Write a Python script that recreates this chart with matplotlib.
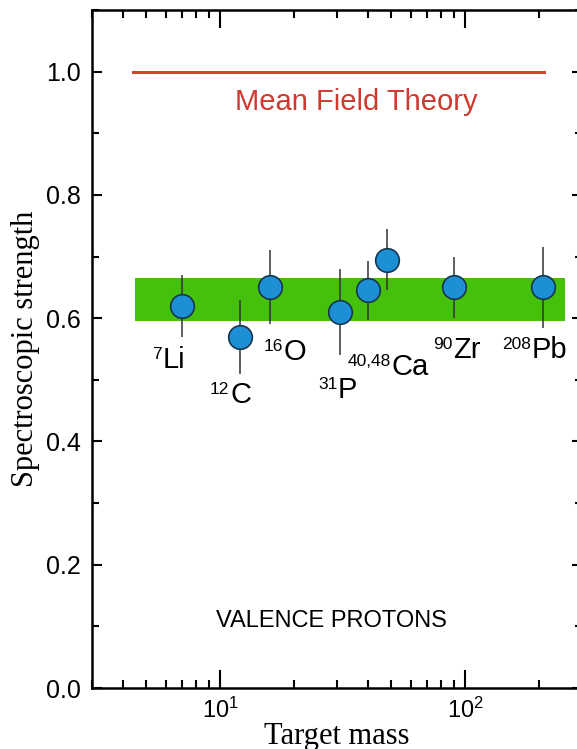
import matplotlib
matplotlib.use("Agg")
import matplotlib.pyplot as plt
import numpy as np
from matplotlib.ticker import LogLocator, MultipleLocator, FixedLocator

# data
mass = [7, 12, 16, 31, 40, 48, 90, 208]
strength = [0.62, 0.57, 0.65, 0.61, 0.645, 0.695, 0.65, 0.65]
err = [0.05, 0.06, 0.06, 0.07, 0.048, 0.05, 0.05, 0.066]

# nucleus labels: mass number, element, baseline-left position
label_sup = ["7", "12", "16", "31", "40,48", "90", "208"]
label_el = ["Li", "C", "O", "P", "Ca", "Zr", "Pb"]
label_x = [5.3, 9.1, 15.0, 25.1, 33.0, 74.0, 141.0]
label_y = [0.518, 0.461, 0.531, 0.469, 0.506, 0.534, 0.534]

mft_x = [4.4, 210]
mft_y = 1.0
band_x = [4.5, 255]
band_lo, band_hi = 0.595, 0.665

plt.rcParams['font.family'] = ['Liberation Sans', 'DejaVu Sans']
plt.rcParams['mathtext.fontset'] = 'custom'
plt.rcParams['mathtext.rm'] = 'Liberation Sans'
plt.rcParams['mathtext.it'] = 'Liberation Sans'
plt.rcParams['mathtext.default'] = 'regular'

fig = plt.figure(figsize=(5.77, 7.49), dpi=100)
ax = fig.add_axes([92 / 577, 61 / 749, 490 / 577, 678 / 749])
ax.set_xscale('log')
ax.set_xlim(3, 300)
ax.set_ylim(0, 1.1)

# band and mean field line
ax.fill_between(band_x, band_lo, band_hi, color='#45c10c', lw=0, zorder=1)
ax.plot(mft_x, [mft_y, mft_y], color='#d4432a', lw=2.2, zorder=2)
ax.text(35.9, 0.938, "Mean Field Theory", color='#cc3a30', fontsize=21,
        ha='center', va='baseline')

# data points
ax.errorbar(mass, strength, yerr=err, fmt='o', ms=17, mfc='#1d8fd5',
            mec='#163650', mew=1.2, ecolor='#333333', elinewidth=1.1,
            capsize=0, zorder=3)

# labels: small raised mass number, then the element symbol
for s, el, x, y in zip(label_sup, label_el, label_x, label_y):
    sup = ax.annotate(s, xy=(x, y), xytext=(0, 7), textcoords='offset points',
                      fontsize=12.5, ha='left', va='baseline', zorder=4)
    ax.annotate(el, xy=(1, 0), xycoords=sup, xytext=(0.5, -4),
                textcoords='offset points', fontsize=21, ha='left',
                va='baseline', zorder=4)

ax.text(28.6, 0.099, "VALENCE PROTONS", fontsize=17, ha='center',
        va='baseline')

# ticks
ax.set_yticks([0, 0.2, 0.4, 0.6, 0.8, 1.0])
ax.set_yticklabels(["0.0", "0.2", "0.4", "0.6", "0.8", "1.0"])
ax.yaxis.set_minor_locator(MultipleLocator(0.1))
ax.xaxis.set_major_locator(FixedLocator([10, 100]))
ax.set_xticklabels([r"$10^{1}$", r"$10^{2}$"])
ax.xaxis.set_minor_locator(LogLocator(base=10, subs=np.arange(2, 10)))

ax.tick_params(axis='both', which='both', direction='in', top=True,
               right=True, width=1.5, colors='black')
ax.tick_params(axis='y', which='major', length=7, labelsize=18, pad=8)
ax.tick_params(axis='y', which='minor', length=5)
ax.tick_params(axis='x', which='major', length=13, labelsize=17, pad=7)
ax.tick_params(axis='x', which='minor', length=6)
ax.tick_params(axis='x', which='minor', labelbottom=False)

for sp in ax.spines.values():
    sp.set_linewidth(1.8)

ax.set_xlabel("Target mass", family='Liberation Serif', fontsize=22,
              labelpad=-1)
ax.set_ylabel("Spectroscopic strength", family='Liberation Serif',
              fontsize=22, labelpad=4)

fig.savefig("out.png", dpi=100)
